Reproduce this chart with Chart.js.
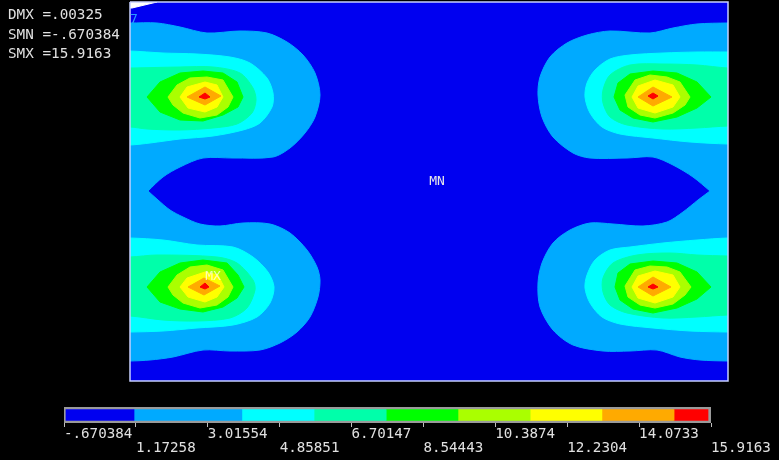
<!DOCTYPE html>
<html>
<head>
<meta charset="utf-8">
<script src="https://cdn.jsdelivr.net/npm/chart.js@4"></script>
<style>
html, body { margin: 0; padding: 0; background: #000; overflow: hidden; }
#wrap { position: relative; width: 779px; height: 460px; background: #000; }
#plate { position: absolute; left: 0; top: 0; }
#bar { position: absolute; left: 0; top: 400px; }
#stats { position: absolute; left: 8px; top: 5px; margin: 0; color: #e0e0e0;
  font: 14.3px/19.5px "DejaVu Sans Mono", monospace; }
</style>
</head>
<body>
<div id="wrap">
  <canvas id="plate" width="779" height="460"></canvas>
  <canvas id="bar" width="779" height="60"></canvas>
  <pre id="stats"></pre>
</div>
<script>
const statLines = ["DMX =.00325", "SMN =-.670384", "SMX =15.9163"]

// legend levels and colour bands
const levels = [-0.670384, 1.17258, 3.01554, 4.85851, 6.70147, 8.54443, 10.3874, 12.2304, 14.0733, 15.9163]
const tickLabels = ["-.670384", "1.17258", "3.01554", "4.85851", "6.70147", "8.54443", "10.3874", "12.2304", "14.0733", "15.9163"]
const bandEdges = [-0.62, 1.125, 3.89, 5.74, 7.59, 9.43, 11.28, 13.12, 14.97, 15.84]
const bandColors = ["#0000f0", "#00aaff", "#00ffff", "#00ffaa", "#00ff00", "#aaff00", "#ffff00", "#ffaa00", "#ff0000"]

// contour outlines, x y x y ... in plate coordinates
// outlines that leave the plate run a little past its edge and get clipped there
const plateEdge = [130,2, 728,2, 728,381, 130,381]
const cornerWhite = [130,2, 157,2, 132,8, 130,8]

const level1Left = [100,23, 130,23, 157,23, 180,27, 207,33, 240,31, 267,33, 287,42, 303,55, 315,73, 320,95, 315,117, 305,133, 290,148, 273,157, 233,158, 203,158, 180,167, 163,177, 148,191, 148,191, 158,200, 170,210, 183,217, 200,224, 220,226, 243,223, 270,224, 290,233, 307,250, 317,267, 320,280, 318,297, 310,317, 297,332, 280,343, 260,350, 230,351, 203,350, 173,357, 150,360, 130,361, 100,361]
const level1Right = [760,23, 728,23, 697,24, 673,28, 650,33, 610,31, 587,35, 567,43, 550,57, 540,77, 538,95, 542,117, 553,137, 573,153, 590,158, 627,158, 653,157, 673,165, 693,177, 710,191, 710,191, 698,200, 683,212, 667,222, 643,226, 613,224, 590,223, 570,230, 553,243, 542,263, 538,283, 540,307, 553,330, 573,345, 603,351, 630,351, 657,350, 680,357, 700,360, 728,361, 760,361]

const cyanTL = [100,51, 130,51, 163,53, 197,54, 230,57, 250,63, 267,78, 273,93, 272,107, 260,123, 243,130, 213,136, 180,139, 150,143, 130,145, 100,145]
const cyanBL = [100,238, 130,238, 163,240, 197,245, 233,247, 253,257, 268,272, 274,287, 270,303, 257,317, 233,325, 197,328, 163,331, 130,332, 100,332]
const cyanTR = [760,52, 728,52, 697,52, 663,53, 630,55, 610,59, 595,70, 587,83, 585,97, 590,113, 602,127, 620,134, 653,138, 690,142, 728,144, 760,144]
const cyanBR = [760,238, 728,238, 697,240, 663,243, 630,247, 610,250, 595,260, 587,275, 585,288, 590,303, 602,317, 620,324, 653,328, 690,331, 728,332, 760,332]

const springTL = [100,68, 130,68, 180,67, 213,67, 240,73, 253,88, 256,100, 252,113, 237,124, 213,128, 180,130, 147,129, 130,127, 100,127]
const springBL = [100,257, 130,257, 157,255, 217,257, 237,263, 253,280, 255,290, 247,308, 230,318, 197,321, 163,320, 130,316, 100,316]
const springTR = [760,68, 728,68, 697,65, 663,64, 630,65, 610,75, 603,90, 603,103, 610,117, 627,125, 663,129, 697,128, 728,126, 760,126]
const springBR = [760,256, 728,256, 697,255, 670,253, 637,255, 613,263, 603,278, 603,292, 610,305, 627,313, 663,318, 697,317, 728,315, 760,315]

const greenTL = [147,97, 160,82, 180,73, 203,71, 223,73, 237,82, 243,97, 238,107, 223,115, 203,121, 180,120, 160,112]
const greenBL = [147,287, 160,272, 180,263, 203,260, 227,263, 238,275, 244,287, 237,298, 223,307, 203,312, 180,309, 160,302]
const greenTR = [711,97, 697,82, 677,73, 653,71, 630,74, 618,83, 614,97, 620,110, 633,118, 653,122, 677,117, 697,108]
const greenBR = [711,287, 697,272, 677,263, 653,261, 630,264, 618,273, 615,287, 620,300, 633,309, 653,313, 677,308, 697,299]

const limeTL = [168,97, 177,85, 190,78, 207,77, 223,80, 233,97, 228,107, 217,115, 200,118, 183,113, 173,105]
const limeBL = [168,287, 177,275, 190,267, 207,265, 223,270, 233,287, 228,297, 217,305, 200,308, 183,303, 173,295]
const limeTR = [690,97, 680,82, 667,77, 650,75, 635,80, 625,95, 628,107, 640,115, 655,118, 673,113, 685,105]
const limeBR = [691,287, 680,272, 667,267, 650,266, 635,270, 625,286, 628,297, 640,305, 655,308, 673,304, 685,295]

const yellowTL = [180,97, 187,87, 205,82, 217,85, 223,97, 217,107, 205,112, 188,108]
const yellowBL = [180,287, 187,278, 205,272, 218,275, 224,287, 217,297, 205,302, 188,297]
const yellowTR = [680,97, 673,85, 655,80, 638,86, 632,97, 638,108, 655,113, 673,107]
const yellowBR = [680,287, 673,275, 655,271, 638,276, 632,287, 638,298, 655,303, 673,297]

const orangeTL = [187,97, 205,87, 221,96, 205,105]
const orangeBL = [188,287, 204,278, 220,286, 204,295]
const orangeTR = [672,97, 653,87, 638,97, 653,106]
const orangeBR = [671,287, 653,277, 638,287, 653,296]

const redTL = [199,97, 205,93, 210,97, 205,99]
const redBL = [200,287, 205,283, 209,287, 205,289]
const redTR = [658,96, 653,93, 648,96, 653,99]
const redBR = [658,287, 653,284, 648,287, 653,289]

const nodeLabels = ["MN", "MX", "7"]
const nodeX = [437, 213, 134]
const nodeY = [182, 277, 20]

document.getElementById("stats").textContent = statLines.join("\n")

function toPoints(list) {
    const pts = []
    for (let i = 0; i < list.length; i += 2) {
        pts.push({ x: list[i], y: list[i + 1] })
    }
    pts.push({ x: list[0], y: list[1] })
    return pts
}

// first in the list is painted first, the third field rounds the outer contours
const layers = [
    [plateEdge, bandColors[0], 0],
    [cornerWhite, "#ffffff", 0],
    [level1Left, bandColors[1], 0.3], [level1Right, bandColors[1], 0.3],
    [cyanTL, bandColors[2], 0.3], [cyanBL, bandColors[2], 0.3], [cyanTR, bandColors[2], 0.3], [cyanBR, bandColors[2], 0.3],
    [springTL, bandColors[3], 0.3], [springBL, bandColors[3], 0.3], [springTR, bandColors[3], 0.3], [springBR, bandColors[3], 0.3],
    [greenTL, bandColors[4], 0], [greenBL, bandColors[4], 0], [greenTR, bandColors[4], 0], [greenBR, bandColors[4], 0],
    [limeTL, bandColors[5], 0], [limeBL, bandColors[5], 0], [limeTR, bandColors[5], 0], [limeBR, bandColors[5], 0],
    [yellowTL, bandColors[6], 0], [yellowBL, bandColors[6], 0], [yellowTR, bandColors[6], 0], [yellowBR, bandColors[6], 0],
    [orangeTL, bandColors[7], 0], [orangeBL, bandColors[7], 0], [orangeTR, bandColors[7], 0], [orangeBR, bandColors[7], 0],
    [redTL, bandColors[8], 0], [redBL, bandColors[8], 0], [redTR, bandColors[8], 0], [redBR, bandColors[8], 0]
]

const plateSets = layers.map((layer, i) => {
    return {
        data: toPoints(layer[0]),
        showLine: true,
        fill: "shape",
        backgroundColor: layer[1],
        borderColor: layer[1],
        borderWidth: 1,
        pointRadius: 0,
        tension: layer[2],
        order: layers.length - i + 1
    }
})

// plate frame on top of everything
plateSets.push({
    data: toPoints(plateEdge),
    showLine: true,
    fill: false,
    borderColor: "#c6d0ff",
    borderWidth: 1.5,
    pointRadius: 0,
    clip: false,
    order: 0
})

const nodeText = {
    id: "nodeText",
    afterDatasetsDraw(chart) {
        const c = chart.ctx
        c.save()
        c.font = '13px "DejaVu Sans Mono", monospace'
        c.textAlign = "center"
        c.textBaseline = "middle"
        nodeLabels.forEach((t, i) => {
            c.fillStyle = t === "MN" ? "#e8e8e8" : t === "MX" ? "rgba(255,255,255,0.7)" : "#2a9cff"
            c.fillText(t, chart.scales.x.getPixelForValue(nodeX[i]), chart.scales.y.getPixelForValue(nodeY[i]))
        })
        c.restore()
    }
}

new Chart(document.getElementById("plate"), {
    type: "scatter",
    data: { datasets: plateSets },
    plugins: [nodeText],
    options: {
        responsive: false,
        animation: false,
        layout: { padding: { left: 130, top: 2, right: 51, bottom: 79 } },
        plugins: { legend: { display: false }, tooltip: { enabled: false } },
        scales: {
            x: { type: "linear", display: false, min: 130, max: 728 },
            y: { type: "linear", display: false, reverse: true, min: 2, max: 381 }
        }
    }
})

// colour bar
const barSets = bandColors.map((col, i) => {
    return {
        data: [[bandEdges[i], bandEdges[i + 1]]],
        backgroundColor: col,
        barThickness: 11,
        order: 1
    }
})
barSets.push({
    data: [[levels[0], levels[levels.length - 1]]],
    backgroundColor: "#9a9a9a",
    barThickness: 16,
    order: 2
})

new Chart(document.getElementById("bar"), {
    type: "bar",
    data: { labels: [""], datasets: barSets },
    options: {
        responsive: false,
        animation: false,
        indexAxis: "y",
        layout: { padding: { left: 64, top: 7, right: 68, bottom: 2 } },
        plugins: { legend: { display: false }, tooltip: { enabled: false } },
        datasets: { bar: { grouped: false } },
        scales: {
            y: { display: false },
            x: {
                type: "linear",
                min: levels[0],
                max: levels[levels.length - 1],
                afterBuildTicks: axis => { axis.ticks = levels.map(v => ({ value: v })) },
                afterFit: axis => { axis.paddingLeft = 0; axis.paddingRight = 0; axis.height = 35 },
                border: { display: false },
                grid: { drawOnChartArea: false, color: "#bdbdbd", tickLength: 4 },
                ticks: {
                    autoSkip: false,
                    maxRotation: 0,
                    align: "start",
                    padding: 0,
                    color: "#e0e0e0",
                    font: { family: '"DejaVu Sans Mono", monospace', size: 14.2, lineHeight: 1.0 },
                    callback: (value, index) => index % 2 ? ["", tickLabels[index]] : [tickLabels[index], ""]
                }
            }
        }
    }
})
</script>
</body>
</html>
